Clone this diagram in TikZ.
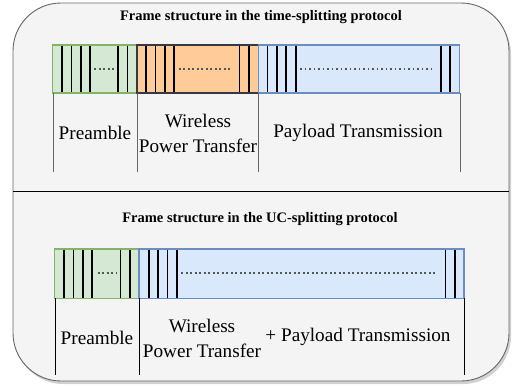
\documentclass[tikz,border=0pt]{standalone}
\usepackage{fontspec}
\setmainfont{Liberation Serif}
\definecolor{gfill}{HTML}{D5E8D4}
\definecolor{gline}{HTML}{82B366}
\definecolor{ofill}{HTML}{FFCC99}
\definecolor{oline}{HTML}{36393D}
\definecolor{bfill}{HTML}{DAE8FC}
\definecolor{bline}{HTML}{6C8EBF}
\definecolor{panel}{HTML}{F4F4F4}
\definecolor{pline}{HTML}{666666}
\definecolor{dotc}{HTML}{555555}
\tikzset{
  seg/.style={line width=1.4pt},
  tick/.style={line width=1.6pt, black},
  dotline/.style={line width=1.8pt, dotc, dash pattern=on 1.8pt off 2.7pt},
  sep/.style={line width=0.9pt},
  lbl/.style={inner sep=0pt, align=center, font=\rmfamily\fontsize{19.2}{25}\selectfont},
  ttl/.style={inner sep=0pt, font=\rmfamily\bfseries\fontsize{14.5}{17}\selectfont}
}
\begin{document}
\begin{tikzpicture}[x=1pt,y=-1pt]
\useasboundingbox (0,0) rectangle (513,386);
% panel with shadow
\fill[black, opacity=0.18, rounded corners=48pt] (15,6) rectangle (511,384);
\draw[fill=panel, draw=pline, line width=0.9pt, rounded corners=48pt] (13,3) rectangle (509,381);
\draw[line width=1.4pt] (13,191.3) -- (509,191.3);

% titles
\node[ttl] (t1) at (261,17) {Frame structure in the time-splitting protocol};
\node[ttl] (t2) at (260,219) {Frame structure in the UC-splitting protocol};

% ---------- top frame ----------
\draw[seg, fill=gfill, draw=gline] (52.5,45) rectangle (137,93);
\draw[seg, fill=ofill, draw=oline] (137,45) rectangle (258.3,93);
\draw[seg, fill=bfill, draw=bline] (258.3,45) rectangle (459.5,93);
\foreach \x in {62,71.3,80.7,90,118,127.3,146,155.3,164.7,174,239.3,248.7,267.3,276.7,286,295.7,440.7,450}
  \draw[tick] (\x,45.7) -- (\x,92.3);
\draw[dotline] (94.3,69) -- (114,69);
\draw[dotline] (178.7,69) -- (232,69);
\draw[dotline] (300,69) -- (432,69);

\coordinate (a1) at (53,93);
\coordinate (a2) at (137.3,93);
\coordinate (a3) at (258.7,93);
\coordinate (a4) at (460,93);
\foreach \c in {a1,a2,a3,a4}
  \draw[sep, pline] (\c) -- ++(0,78.7);

\node[lbl] (p1) at (95,133) {Preamble};
\node[lbl] (w1) at (198,133) {Wireless\\Power Transfer};
\node[lbl] (d1) at (358,133) {Payload Transmission};

% ---------- bottom frame ----------
\draw[seg, fill=gfill, draw=gline] (54.3,249) rectangle (139,298.3);
\draw[seg, fill=bfill, draw=bline] (139,249) rectangle (464,298.3);
\foreach \x in {64,73.3,82.7,92,120.3,129.7,148.7,158,167.3,176.7,445.3,454.7}
  \draw[tick] (\x,249.7) -- (\x,297.6);
\draw[dotline] (97.7,273.3) -- (117,273.3);
\draw[dotline] (181.3,273.3) -- (436,273.3);

\coordinate (b1) at (55.3,298.3);
\coordinate (b2) at (139.7,298.3);
\coordinate (b3) at (464.3,298.3);
\foreach \c in {b1,b2,b3}
  \draw[sep, black] (\c) -- ++(0,76.7);

\node[lbl] (p2) at (97,338) {Preamble};
\node[lbl] (w2) at (202,338) {Wireless\\Power Transfer};
\node[lbl] (d2) at (358,337) {+ Payload Transmission};
\end{tikzpicture}
\end{document}
